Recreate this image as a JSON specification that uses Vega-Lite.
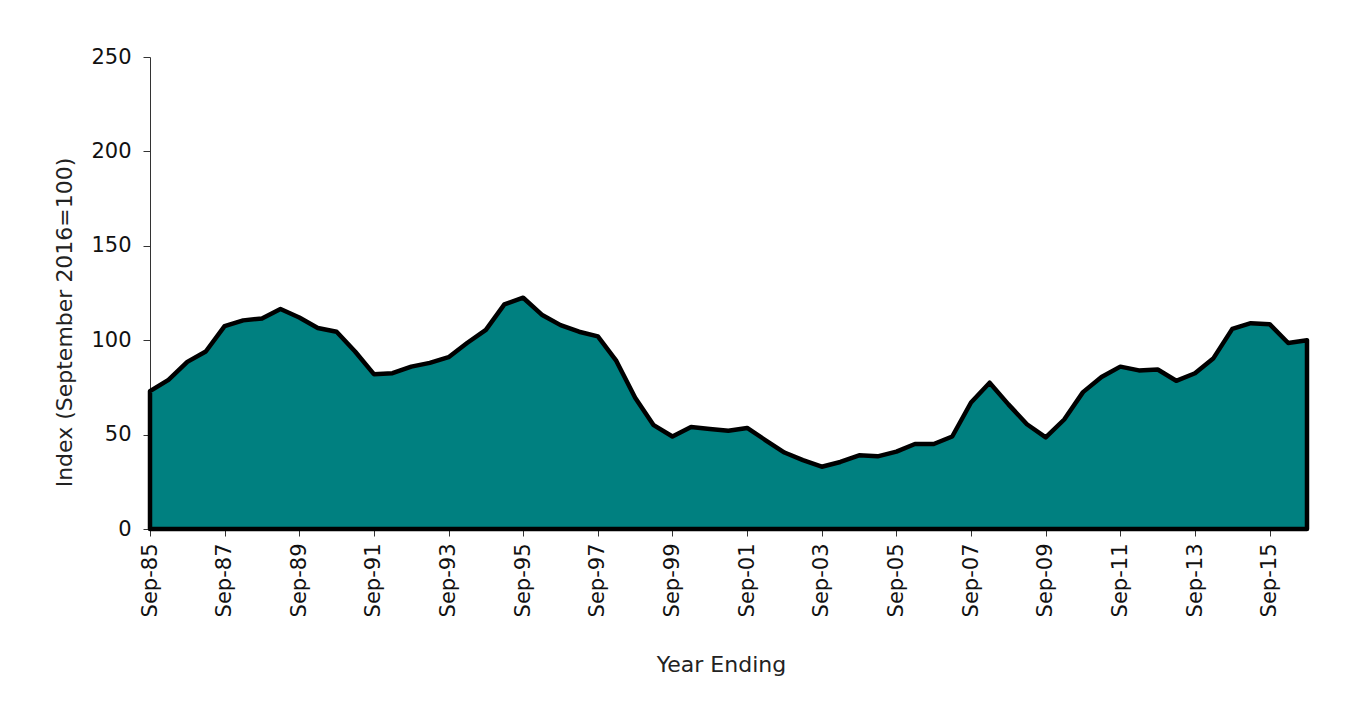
{
  "$schema": "https://vega.github.io/schema/vega-lite/v6.json",
  "autosize": "none",
  "width": 1157,
  "height": 472,
  "padding": {"left": 150, "top": 57, "right": 51, "bottom": 177},
  "background": "white",
  "config": {
    "view": {"stroke": null},
    "font": "DejaVu Sans",
    "axis": {
      "labelFont": "DejaVu Sans",
      "titleFont": "DejaVu Sans",
      "labelFontSize": 21,
      "titleFontSize": 22,
      "titleFontWeight": "normal",
      "labelColor": "#111111",
      "titleColor": "#222222",
      "domainColor": "#333333",
      "tickColor": "#333333",
      "grid": false,
      "tickSize": 7
    }
  },
  "data": {
    "values": [
      {"date": "1985-09-01", "index": 73},
      {"date": "1986-03-01", "index": 79},
      {"date": "1986-09-01", "index": 88.5},
      {"date": "1987-03-01", "index": 94},
      {"date": "1987-09-01", "index": 107.5},
      {"date": "1988-03-01", "index": 110.5},
      {"date": "1988-09-01", "index": 111.5},
      {"date": "1989-03-01", "index": 116.5},
      {"date": "1989-09-01", "index": 112},
      {"date": "1990-03-01", "index": 106.5},
      {"date": "1990-09-01", "index": 104.5},
      {"date": "1991-03-01", "index": 94},
      {"date": "1991-09-01", "index": 82},
      {"date": "1992-03-01", "index": 82.5},
      {"date": "1992-09-01", "index": 86},
      {"date": "1993-03-01", "index": 88},
      {"date": "1993-09-01", "index": 91},
      {"date": "1994-03-01", "index": 98.5},
      {"date": "1994-09-01", "index": 105.5},
      {"date": "1995-03-01", "index": 119},
      {"date": "1995-09-01", "index": 122.5},
      {"date": "1996-03-01", "index": 113.5},
      {"date": "1996-09-01", "index": 108},
      {"date": "1997-03-01", "index": 104.5},
      {"date": "1997-09-01", "index": 102},
      {"date": "1998-03-01", "index": 89},
      {"date": "1998-09-01", "index": 69.5},
      {"date": "1999-03-01", "index": 55},
      {"date": "1999-09-01", "index": 49},
      {"date": "2000-03-01", "index": 54},
      {"date": "2000-09-01", "index": 53},
      {"date": "2001-03-01", "index": 52},
      {"date": "2001-09-01", "index": 53.5},
      {"date": "2002-03-01", "index": 47},
      {"date": "2002-09-01", "index": 40.5},
      {"date": "2003-03-01", "index": 36.5},
      {"date": "2003-09-01", "index": 33},
      {"date": "2004-03-01", "index": 35.5},
      {"date": "2004-09-01", "index": 39},
      {"date": "2005-03-01", "index": 38.5},
      {"date": "2005-09-01", "index": 41},
      {"date": "2006-03-01", "index": 45},
      {"date": "2006-09-01", "index": 45},
      {"date": "2007-03-01", "index": 49},
      {"date": "2007-09-01", "index": 67},
      {"date": "2008-03-01", "index": 77.5},
      {"date": "2008-09-01", "index": 66},
      {"date": "2009-03-01", "index": 55.5},
      {"date": "2009-09-01", "index": 48.5},
      {"date": "2010-03-01", "index": 58},
      {"date": "2010-09-01", "index": 72.5},
      {"date": "2011-03-01", "index": 80.5},
      {"date": "2011-09-01", "index": 86},
      {"date": "2012-03-01", "index": 84},
      {"date": "2012-09-01", "index": 84.5},
      {"date": "2013-03-01", "index": 78.5},
      {"date": "2013-09-01", "index": 82.5},
      {"date": "2014-03-01", "index": 90.5},
      {"date": "2014-09-01", "index": 106},
      {"date": "2015-03-01", "index": 109},
      {"date": "2015-09-01", "index": 108.5},
      {"date": "2016-03-01", "index": 98.5},
      {"date": "2016-09-01", "index": 100}
    ]
  },
  "mark": {
    "type": "area",
    "color": "#008080",
    "stroke": "#000000",
    "strokeWidth": 4.5,
    "strokeJoin": "round",
    "opacity": 1
  },
  "encoding": {
    "x": {
      "field": "date",
      "type": "temporal",
      "title": "Year Ending",
      "scale": {
        "type": "utc",
        "domain": [
          {"year": 1985, "month": 9, "date": 1, "utc": true},
          {"year": 2016, "month": 9, "date": 1, "utc": true}
        ]
      },
      "axis": {
        "format": "%b-%y",
        "labelAngle": 270,
        "labelPadding": 7,
        "titlePadding": 38,
        "titleX": 571,
        "values": [
          {"year": 1985, "month": 9, "date": 1, "utc": true},
          {"year": 1987, "month": 9, "date": 1, "utc": true},
          {"year": 1989, "month": 9, "date": 1, "utc": true},
          {"year": 1991, "month": 9, "date": 1, "utc": true},
          {"year": 1993, "month": 9, "date": 1, "utc": true},
          {"year": 1995, "month": 9, "date": 1, "utc": true},
          {"year": 1997, "month": 9, "date": 1, "utc": true},
          {"year": 1999, "month": 9, "date": 1, "utc": true},
          {"year": 2001, "month": 9, "date": 1, "utc": true},
          {"year": 2003, "month": 9, "date": 1, "utc": true},
          {"year": 2005, "month": 9, "date": 1, "utc": true},
          {"year": 2007, "month": 9, "date": 1, "utc": true},
          {"year": 2009, "month": 9, "date": 1, "utc": true},
          {"year": 2011, "month": 9, "date": 1, "utc": true},
          {"year": 2013, "month": 9, "date": 1, "utc": true},
          {"year": 2015, "month": 9, "date": 1, "utc": true}
        ]
      }
    },
    "y": {
      "field": "index",
      "type": "quantitative",
      "title": "Index (September 2016=100)",
      "scale": {"domain": [0, 250], "nice": false},
      "axis": {
        "values": [0, 50, 100, 150, 200, 250],
        "labelPadding": 12,
        "titlePadding": 14,
        "titleY": 265
      }
    }
  }
}
